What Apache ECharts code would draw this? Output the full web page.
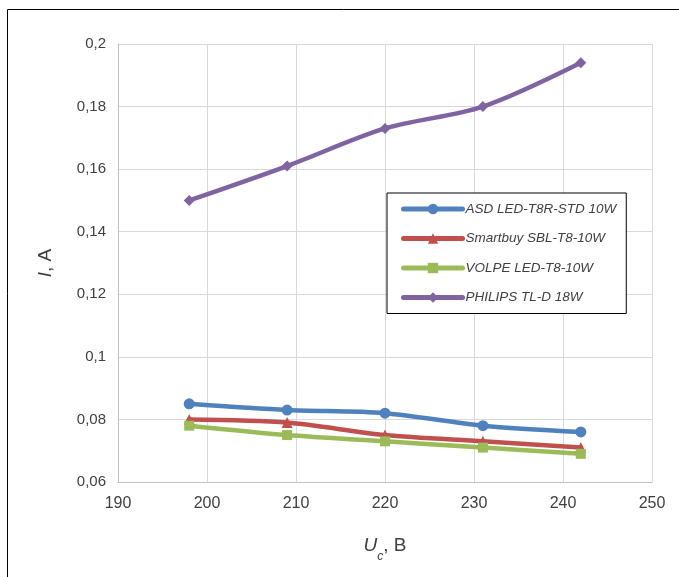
<!DOCTYPE html>
<html><head><meta charset="utf-8">
<script src="https://cdn.jsdelivr.net/npm/echarts@6/dist/echarts.min.js"></script>
<style>html,body{margin:0;padding:0;background:#fff}#c{width:679px;height:577px}</style>
</head><body><div id="c"></div>
<script>
const voltage = [198, 209, 220, 231, 242];
const seriesNames = ['ASD LED-T8R-STD 10W', 'Smartbuy SBL-T8-10W', 'VOLPE LED-T8-10W', 'PHILIPS TL-D 18W'];
const asd = [0.085, 0.083, 0.082, 0.078, 0.076];
const smartbuy = [0.080, 0.079, 0.075, 0.073, 0.071];
const volpe = [0.078, 0.075, 0.073, 0.071, 0.069];
const philips = [0.150, 0.161, 0.173, 0.180, 0.194];
const xTicks = [190, 200, 210, 220, 230, 240, 250];
const yTicks = [0.06, 0.08, 0.1, 0.12, 0.14, 0.16, 0.18, 0.2];

const colors = ['#4F81BD', '#C0504D', '#9BBB59', '#8064A2'];
const symbols = ['circle', 'triangle', 'rect', 'diamond'];
const symSizes = [11, 11, 10, 11];
const values = [asd, smartbuy, volpe, philips];

const chart = echarts.init(document.getElementById('c'));
const font = 'Liberation Sans, Arial, sans-serif';
chart.setOption({
  animation: false,
  graphic: [{type: 'rect', shape: {x: 7.5, y: 9.5, width: 700, height: 600}, style: {fill: 'none', stroke: '#000', lineWidth: 1}, z: 0}],
  grid: {left: 118, right: 27, top: 44, bottom: 95},
  xAxis: {
    type: 'value', min: xTicks[0], max: xTicks[xTicks.length - 1], interval: 10,
    axisLine: {lineStyle: {color: '#BFBFBF', width: 1}},
    axisTick: {show: false},
    splitLine: {lineStyle: {color: '#D9D9D9'}},
    axisLabel: {color: '#404040', fontSize: 16, fontFamily: font, margin: 14},
    name: '{u|U}{s|c}{n|, В}', nameLocation: 'middle', nameGap: 52,
    nameTextStyle: {
      rich: {
        u: {fontSize: 19, fontStyle: 'italic', color: '#404040', fontFamily: font, lineHeight: 24, verticalAlign: 'middle'},
        s: {fontSize: 12, fontStyle: 'italic', color: '#404040', fontFamily: font, lineHeight: 24, verticalAlign: 'bottom', padding: [0, 0, -5, 0]},
        n: {fontSize: 19, color: '#404040', fontFamily: font, lineHeight: 24, verticalAlign: 'middle'}
      }
    }
  },
  yAxis: {
    type: 'value', min: 0.06, max: 0.2, interval: 0.02,
    axisLine: {show: true, lineStyle: {color: '#BFBFBF', width: 1}},
    axisTick: {show: false},
    splitLine: {lineStyle: {color: '#D9D9D9'}},
    axisLabel: {color: '#404040', fontSize: 15, fontFamily: font, margin: 12,
      formatter: v => String(Math.round(v * 100) / 100).replace('.', ',')},
    name: '{i|I}{n|, А}', nameLocation: 'middle', nameGap: 63, nameRotate: 90,
    nameTextStyle: {
      rich: {
        i: {fontSize: 19, fontStyle: 'italic', color: '#404040', fontFamily: font},
        n: {fontSize: 19, color: '#404040', fontFamily: font}
      }
    }
  },
  legend: {
    orient: 'vertical', left: 387, top: 193,
    padding: [9, 10, 9, 14], itemGap: 15.5,
    itemWidth: 59, itemHeight: 13,
    backgroundColor: '#fff', borderColor: '#000', borderWidth: 1,
    lineStyle: {width: 5, cap: 'round'},
    textStyle: {fontStyle: 'italic', fontSize: 13.5, color: '#404040', fontFamily: font, padding: [0, 0, 0, -2]},
    data: seriesNames
  },
  series: seriesNames.map((n, k) => ({
    name: n, type: 'line', smooth: 0.3,
    data: voltage.map((x, i) => [x, values[k][i]]),
    symbol: symbols[k], symbolSize: symSizes[k],
    lineStyle: {color: colors[k], width: 4.5, cap: 'round'},
    itemStyle: {color: colors[k]}
  }))
});
</script></body></html>
